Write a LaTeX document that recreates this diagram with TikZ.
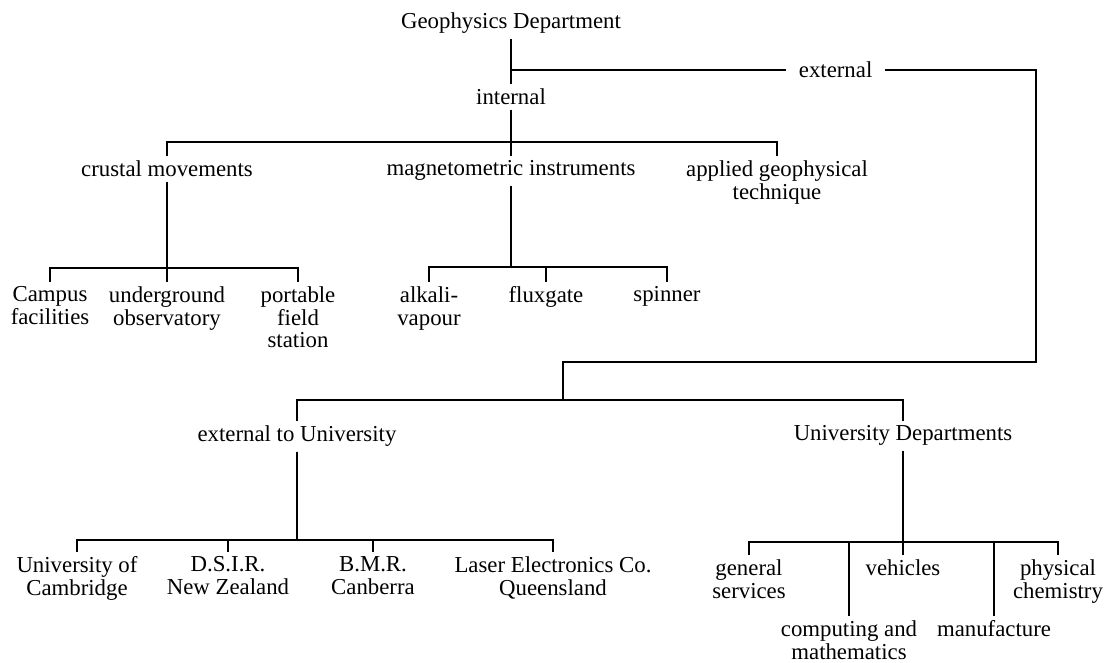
\documentclass[tikz,border=0pt]{standalone}
\usepackage{fontspec}
\setmainfont{Liberation Serif}
\usetikzlibrary{positioning}

\begin{document}
\begin{tikzpicture}[x=0.5pt, y=-0.5pt, line width=0.9pt,
    every node/.style={anchor=north, inner sep=2pt, align=center,
      font=\fontsize{11.4}{11.3}\selectfont},
    branch/.style={to path={(\tikztostart.south) -- (\tikztostart.south |- #1)
      -| (\tikztotarget.north)}}]
  \useasboundingbox (0,0) rectangle (1105,663);

  % top
  \node (geo) at (511,8) {Geophysics Department};
  \node (int) at (511,84) {internal};
  \node (ext) [anchor=west, inner xsep=6pt] at (786,70) {external};
  \coordinate (j0) at (511,70);
  \draw (geo) -- (int);
  \draw (j0) -- (ext);

  % internal side
  \node (crust) at (167,156) {crustal movements};
  \node (mag) at (511,156) {magnetometric instruments};
  \node (app) at (777,156) {applied geophysical\\technique};
  \coordinate (ibar) at (511,142);
  \path[draw] (int) edge[branch=ibar] (crust)
                    edge[branch=ibar] (mag)
                    edge[branch=ibar] (app);

  \node (camp) at (50,282) {Campus\\facilities};
  \node (under) at (167,282) {underground\\observatory};
  \node (port) at (298,282) {portable\\field\\station};
  \coordinate (cbar) at (167,268);
  \path (crust) edge[branch=cbar] (camp)
                edge[branch=cbar] (under)
                edge[branch=cbar] (port);

  \node (alk) at (429,282) {alkali-\\vapour};
  \node (flux) at (546,282) {fluxgate};
  \node (spin) at (667,282) {spinner};
  \coordinate (mbar) at (511,267);
  \path (mag) edge[branch=mbar] (alk)
              edge[branch=mbar] (flux)
              edge[branch=mbar] (spin);

  % external side
  \coordinate (rt) at (1036,70);
  \coordinate (lk) at (563,362);
  \coordinate (ebar) at (563,400);
  \node (extu) at (297,421) {external to University};
  \node (unid) at (903,421) {University Departments};
  \draw (ext) -- (rt) |- (lk) -- (ebar);
  \draw (ebar) -| (extu);
  \draw (ebar) -| (unid);

  \node (cam) at (77,552) {University of\\Cambridge};
  \node (dsir) at (228,552) {D.S.I.R.\\New Zealand};
  \node (bmr) at (373,552) {B.M.R.\\Canberra};
  \node (laser) at (553,552) {Laser Electronics Co.\\Queensland};
  \coordinate (xbar) at (297,540);
  \path (extu) edge[branch=xbar] (cam)
               edge[branch=xbar] (dsir)
               edge[branch=xbar] (bmr)
               edge[branch=xbar] (laser);

  \node (gen) at (749,555) {general\\services};
  \node (comp) at (849,616) {computing and\\mathematics};
  \node (veh) at (903,555) {vehicles};
  \node (manu) at (994,616) {manufacture};
  \node (phys) at (1058,555) {physical\\chemistry};
  \coordinate (ubar) at (903,542);
  \path (unid) edge[branch=ubar] (gen)
               edge[branch=ubar] (comp)
               edge[branch=ubar] (veh)
               edge[branch=ubar] (manu)
               edge[branch=ubar] (phys);
\end{tikzpicture}
\end{document}
